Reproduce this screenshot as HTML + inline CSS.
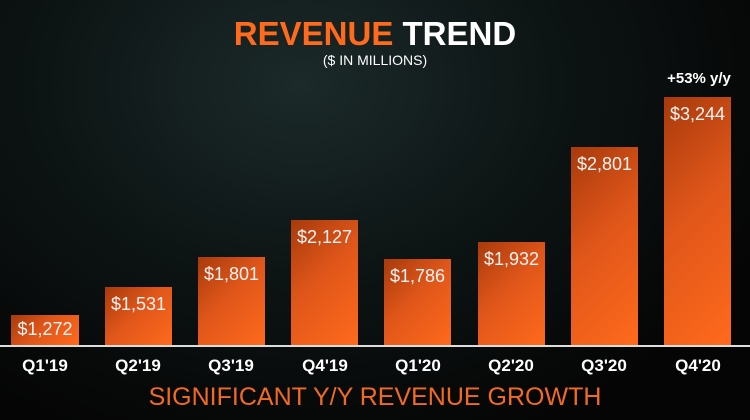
<!DOCTYPE html>
<html><head><style>
body{margin:0;width:750px;height:420px;overflow:hidden;font-family:"Liberation Sans",sans-serif;
background:radial-gradient(ellipse at 40% 20%,#1c2a2a 0%,#0d1414 40%,#050505 80%);position:relative}
.t{position:absolute;left:0;width:750px;text-align:center}
.bar{position:absolute;background:linear-gradient(135deg,#a83a0c 0%,#e0561a 45%,#ff6a1c 100%);color:#f4f4f4;font-size:18px;text-align:center;padding-top:7px;box-sizing:border-box}
.q{position:absolute;top:356px;width:90px;text-align:center;color:#fff;font-size:17px;font-weight:bold}
</style></head><body>
<div class="t" style="top:15px;font-size:33px;font-weight:bold;color:#fff"><span style="color:#ff6a1c">REVENUE</span> TREND</div>
<div class="t" style="top:52px;font-size:14px;color:#fff">($ IN MILLIONS)</div>
<div style="position:absolute;left:662px;top:70px;width:74px;text-align:center;color:#fff;font-weight:bold;font-size:15px">+53% y/y</div>
<div class="bar" style="left:11px;top:315px;width:68px;height:31px;padding-top:4px">$1,272</div>
<div class="bar" style="left:105px;top:287px;width:67px;height:59px">$1,531</div>
<div class="bar" style="left:198px;top:257px;width:67px;height:89px">$1,801</div>
<div class="bar" style="left:291px;top:220px;width:67px;height:126px">$2,127</div>
<div class="bar" style="left:384px;top:259px;width:67px;height:87px">$1,786</div>
<div class="bar" style="left:478px;top:242px;width:67px;height:104px">$1,932</div>
<div class="bar" style="left:571px;top:147px;width:67px;height:199px">$2,801</div>
<div class="bar" style="left:664px;top:97px;width:67px;height:249px">$3,244</div>
<div style="position:absolute;left:0;top:345px;width:750px;height:2px;background:#ddd"></div>
<div class="q" style="left:0">Q1'19</div>
<div class="q" style="left:93px">Q2'19</div>
<div class="q" style="left:186px">Q3'19</div>
<div class="q" style="left:280px">Q4'19</div>
<div class="q" style="left:373px">Q1'20</div>
<div class="q" style="left:466px">Q2'20</div>
<div class="q" style="left:559px">Q3'20</div>
<div class="q" style="left:653px">Q4'20</div>
<div class="t" style="top:383px;font-size:25px;color:#f26a21">SIGNIFICANT Y/Y REVENUE GROWTH</div>
</body></html>
